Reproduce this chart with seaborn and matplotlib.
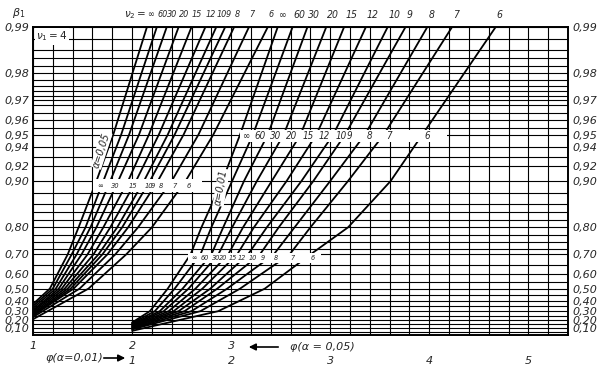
import numpy as np
import pandas as pd
import matplotlib
matplotlib.use('Agg')
import matplotlib.pyplot as plt
import matplotlib.transforms as mtransforms
from matplotlib import font_manager as fm
from matplotlib.patches import Rectangle
from matplotlib.ticker import MultipleLocator, NullFormatter
import seaborn as sns

# nu2 of each curve (same order in both families)
nu2 = ['∞', '60', '30', '20', '15', '12', '10', '9', '8', '7', '6']

# alpha = 0.05 family: phi (read on the alpha=0.05 scale) where each curve reaches the power levels
levels_05 = [0.50, 0.70, 0.80, 0.90, 0.95, 0.99]
start_05 = [0.37, 0.35, 0.33, 0.31, 0.30, 0.285, 0.27, 0.26, 0.25, 0.235, 0.21]  # power at phi = 1
phi_05 = [
    [1.17, 1.35, 1.46, 1.64, 1.81, 2.15],
    [1.20, 1.39, 1.53, 1.71, 1.89, 2.25],
    [1.23, 1.44, 1.58, 1.78, 1.97, 2.35],
    [1.26, 1.49, 1.64, 1.86, 2.07, 2.47],
    [1.29, 1.55, 1.71, 1.96, 2.17, 2.60],
    [1.32, 1.61, 1.78, 2.04, 2.27, 2.74],
    [1.35, 1.66, 1.85, 2.12, 2.36, 2.85],
    [1.38, 1.70, 1.90, 2.18, 2.43, 2.94],
    [1.41, 1.75, 1.96, 2.26, 2.52, 3.03],
    [1.47, 1.83, 2.06, 2.40, 2.67, 3.18],
    [1.56, 1.94, 2.20, 2.54, 2.82, 3.37],
]

# alpha = 0.01 family: phi read on the alpha=0.01 scale
levels_01 = [0.30, 0.50, 0.70, 0.80, 0.90, 0.95, 0.99]
start_01 = [0.17, 0.16, 0.15, 0.14, 0.13, 0.12, 0.11, 0.10, 0.09, 0.08, 0.06]  # power at phi = 1
phi_01 = [
    [1.18, 1.36, 1.59, 1.70, 1.91, 2.09, 2.47],
    [1.23, 1.43, 1.69, 1.80, 2.01, 2.22, 2.62],
    [1.28, 1.51, 1.80, 1.92, 2.13, 2.37, 2.77],
    [1.32, 1.57, 1.87, 2.01, 2.26, 2.53, 2.96],
    [1.37, 1.64, 1.97, 2.12, 2.41, 2.70, 3.14],
    [1.42, 1.71, 2.06, 2.23, 2.56, 2.86, 3.36],
    [1.47, 1.79, 2.17, 2.36, 2.71, 3.03, 3.58],
    [1.53, 1.86, 2.29, 2.48, 2.83, 3.15, 3.76],
    [1.60, 1.96, 2.43, 2.64, 3.00, 3.35, 3.98],
    [1.69, 2.09, 2.59, 2.80, 3.18, 3.54, 4.23],
    [1.87, 2.34, 2.80, 3.18, 3.61, 3.93, 4.67],
]

# labelled curves in the alpha=0.05 label strip
strip_05 = ['∞', '30', '15', '10', '9', '8', '7', '6']

# power axis
yticks = [0.10, 0.20, 0.30, 0.40, 0.50, 0.60, 0.70, 0.80, 0.90, 0.92, 0.94, 0.95, 0.96, 0.97, 0.98, 0.99]
ylabels = ['0,10', '0,20', '0,30', '0,40', '0,50', '0,60', '0,70', '0,80', '0,90', '0,92', '0,94',
           '0,95', '0,96', '0,97', '0,98', '0,99']
yminor = [0.05, 0.15, 0.25, 0.35, 0.45, 0.55, 0.65, 0.725, 0.75, 0.775, 0.82, 0.84, 0.86, 0.88, 0.93,
          0.955, 0.964, 0.968, 0.972, 0.974, 0.976, 0.978, 0.982, 0.984, 0.986, 0.988]
xticks_01 = [1, 2, 3, 4, 5]
xticks_05 = [1, 2, 3]

# long table: x is the alpha=0.01 phi scale, alpha=0.05 scale is shifted by one
rows = []
for name, st, ph in zip(nu2, start_05, phi_05):
    rows.append(dict(curve='a05_' + name, x=0.0, power=st))
    for lv, p in zip(levels_05, ph):
        rows.append(dict(curve='a05_' + name, x=p - 1, power=lv))
for name, st, ph in zip(nu2, start_01, phi_01):
    rows.append(dict(curve='a01_' + name, x=1.0, power=st))
    for lv, p in zip(levels_01, ph):
        rows.append(dict(curve='a01_' + name, x=p, power=lv))
df = pd.DataFrame(rows)


def fwd(p):
    return -np.log10(np.clip(1 - np.asarray(p, dtype=float), 1e-6, None))


def inv(t):
    return 1 - 10 ** (-np.asarray(t, dtype=float))


sns.set_style('white')
plt.rcParams['font.family'] = ['DejaVu Sans']

# narrow italic face for the crowded curve labels, if one is installed
narrow = sorted(f.fname for f in fm.fontManager.ttflist
                if ('Narrow' in f.fname or 'Condensed' in f.fname)
                and f.style != 'normal' and 'Bold' not in f.fname)


def small(size):
    if narrow:
        return fm.FontProperties(fname=narrow[0], size=size)
    return fm.FontProperties(family='Liberation Sans', style='italic', size=size - 0.5)


W, H = 603, 374
fig = plt.figure(figsize=(W / 100, H / 100), dpi=100)
L, R, T, B = 33, 568, 27, 335
ax = fig.add_axes([L / W, 1 - B / H, (R - L) / W, (B - T) / H])


def P(px, py):
    return px / W, 1 - py / H


ax.set_yscale('function', functions=(fwd, inv))
sns.lineplot(data=df, x='x', y='power', units='curve', estimator=None, sort=False,
             color='black', lw=1.3, ax=ax, legend=False, zorder=2)

ax.set_xlim(0, 5.4)
ax.set_ylim(0, 0.99)
ax.set_xlabel('')
ax.set_ylabel('')

ax.set_yticks(yticks)
ax.set_yticklabels(ylabels)
ax.set_yticks(yminor, minor=True)
ax.yaxis.set_minor_formatter(NullFormatter())
ax.set_xticks(xticks_01)
ax.set_xticklabels([str(v) for v in xticks_01])
ax.xaxis.set_minor_locator(MultipleLocator(0.2))
ax.xaxis.set_minor_formatter(NullFormatter())
ax.set_axisbelow(True)
ax.grid(True, which='both', color='black', lw=0.8)
ax.tick_params(axis='y', which='both', length=0, labelleft=True, labelright=True, pad=3, labelsize=8)
ax.tick_params(axis='x', which='both', length=0, pad=15, labelsize=8)
for lbl in ax.get_yticklabels() + ax.get_xticklabels():
    lbl.set_style('italic')
for s in ax.spines.values():
    s.set_linewidth(1.4)
    s.set_color('black')

sec = ax.secondary_xaxis('bottom', functions=(lambda x: x + 1, lambda x: x - 1))
sec.set_xticks(xticks_05)
sec.set_xticklabels([str(v) for v in xticks_05])
sec.tick_params(length=0, pad=4, labelsize=8)
sec.spines['bottom'].set_visible(False)
for lbl in sec.get_xticklabels():
    lbl.set_style('italic')

# top labels where each curve leaves the chart
top = mtransforms.blended_transform_factory(ax.transData, ax.transAxes)
for name, ph in zip(nu2, phi_05):
    ax.text(ph[-1] - 1 + 0.005, 1.04, name, transform=top, ha='left', va='center',
            fontproperties=small(6.5))
for name, ph in zip(nu2, phi_01):
    ax.text(ph[-1] + 0.01, 1.04, name, transform=top, ha='left', va='center',
            fontproperties=small(7.5))
ax.text(phi_05[0][-1] - 1 - 0.005, 1.04, r'$\nu_2=$', transform=top, ha='right', va='center',
        fontsize=7.5)

# label strips inside the chart
strips = [
    (0.606, 1.707, 0.882, 0.903),
    (2.09, 4.18, 0.9442, 0.9533),
    (1.566, 2.909, 0.659, 0.706),
]
for x0, x1, y0, y1 in strips:
    ax.add_patch(Rectangle((x0, y0), x1 - x0, y1 - y0, facecolor='white', edgecolor='none', zorder=3))

i90 = levels_05.index(0.90)
for name, ph in zip(nu2, phi_05):
    if name in strip_05:
        ax.text(ph[i90] - 1 + 0.01, 0.893, name, ha='left', va='center',
                fontproperties=small(5.4), zorder=4)
i95 = levels_01.index(0.95)
i70 = levels_01.index(0.70)
for name, ph in zip(nu2, phi_01):
    ax.text(ph[i95] + 0.02, 0.949, name, ha='left', va='center', fontproperties=small(7), zorder=4)
    ax.text(ph[i70] + 0.005, 0.683, name, ha='left', va='center', fontproperties=small(5.2), zorder=4)

ax.text(0.03, 0.9885, r'$\nu_1=4$', ha='left', va='center', fontsize=7.5, zorder=4,
        bbox=dict(facecolor='white', edgecolor='none', pad=1))
ax.text(0.69, 0.937, 'α=0,05', rotation=72, ha='center', va='center', fontsize=7,
        style='italic', zorder=4, bbox=dict(facecolor='white', edgecolor='none', pad=0.5))
ax.text(1.9, 0.89, 'α=0,01', rotation=80, ha='center', va='center', fontsize=7,
        style='italic', zorder=4, bbox=dict(facecolor='white', edgecolor='none', pad=0.5))

fig.text(*P(19, 13), r'$\beta_1$', ha='center', va='center', fontsize=8)

# bottom axis captions
fig.text(*P(45, 358), 'φ(α=0,01)', ha='left', va='center', fontsize=8, style='italic')
ax.annotate('', xy=P(128, 358), xytext=P(101, 358), xycoords='figure fraction',
            textcoords='figure fraction', arrowprops=dict(arrowstyle='-|>', color='black', lw=1.2))
fig.text(*P(290, 347), 'φ(α = 0,05)', ha='left', va='center', fontsize=8, style='italic')
ax.annotate('', xy=P(246, 347), xytext=P(281, 347), xycoords='figure fraction',
            textcoords='figure fraction', arrowprops=dict(arrowstyle='-|>', color='black', lw=1.2))

fig.savefig('out.png', dpi=100, facecolor='white')
